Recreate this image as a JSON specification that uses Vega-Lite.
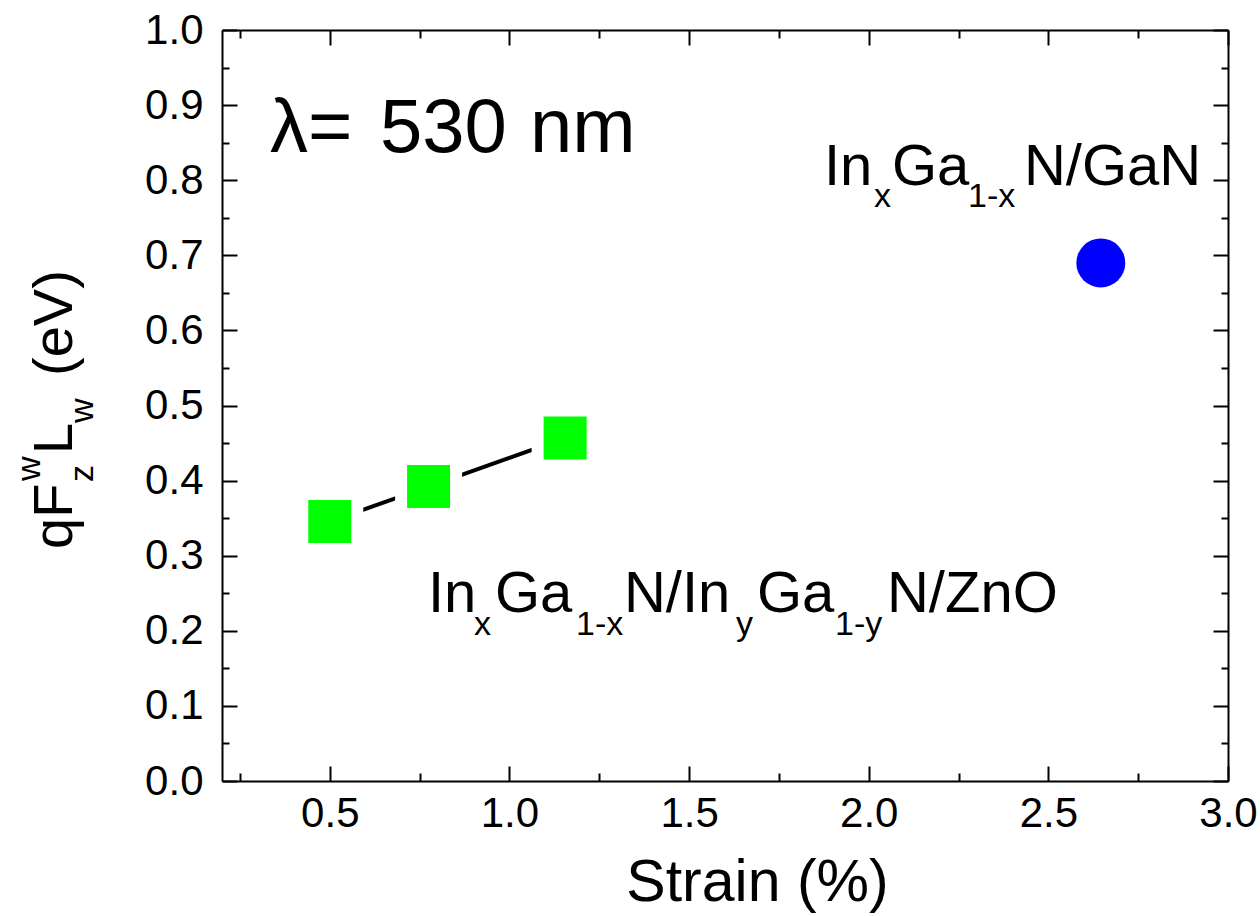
{
  "$schema": "https://vega.github.io/schema/vega-lite/v6.json",
  "width": 1006,
  "height": 751,
  "autosize": {"type": "none"},
  "padding": {"left": 222, "top": 30, "right": 32, "bottom": 135},
  "background": "white",
  "config": {
    "view": {"stroke": null},
    "font": "Liberation Sans",
    "axis": {
      "grid": false,
      "domainColor": "black",
      "domainWidth": 2,
      "tickColor": "black",
      "tickWidth": 2,
      "labelFont": "Liberation Sans",
      "labelFontSize": 42,
      "labelColor": "black",
      "labelOverlap": false,
      "labelFlush": false,
      "labelBound": false,
      "titleFont": "Liberation Sans",
      "titleColor": "black",
      "titleFontWeight": "normal"
    }
  },
  "datasets": {
    "measurements": [
      {"strain": 0.5, "energy": 0.3455, "structure": "InGaN/InGaN/ZnO"},
      {"strain": 0.775, "energy": 0.392, "structure": "InGaN/InGaN/ZnO"},
      {"strain": 1.155, "energy": 0.4566, "structure": "InGaN/InGaN/ZnO"},
      {"strain": 2.646, "energy": 0.6898, "structure": "InGaN/GaN"}
    ],
    "annotations": [
      {"text": "λ=", "strain": 0.3336, "energy": 0.8375, "kind": "lambda"},
      {"text": "530", "strain": 0.6397, "energy": 0.8375, "kind": "lambda"},
      {"text": "nm", "strain": 1.0572, "energy": 0.8375, "kind": "lambda"},
      {"text": "In", "strain": 1.8755, "energy": 0.7936, "kind": "main"},
      {"text": "x", "strain": 2.0146, "energy": 0.7643, "kind": "sub"},
      {"text": "Ga", "strain": 2.0647, "energy": 0.7936, "kind": "main"},
      {"text": "1-x", "strain": 2.2763, "energy": 0.7643, "kind": "sub"},
      {"text": "N/GaN", "strain": 2.4321, "energy": 0.7936, "kind": "main"},
      {"text": "In", "strain": 0.7733, "energy": 0.225, "kind": "main"},
      {"text": "x", "strain": 0.9014, "energy": 0.1944, "kind": "sub"},
      {"text": "Ga", "strain": 0.9598, "energy": 0.225, "kind": "main"},
      {"text": "1-x", "strain": 1.1852, "energy": 0.1944, "kind": "sub"},
      {"text": "N/In", "strain": 1.3188, "energy": 0.225, "kind": "main"},
      {"text": "y", "strain": 1.6306, "energy": 0.1944, "kind": "sub"},
      {"text": "Ga", "strain": 1.689, "energy": 0.225, "kind": "main"},
      {"text": "1-y", "strain": 1.9061, "energy": 0.1944, "kind": "sub"},
      {"text": "N/ZnO", "strain": 2.0508, "energy": 0.225, "kind": "main"},
      {"text": "qF", "strain": -0.2175, "energy": 0.3089, "kind": "ytitle-main"},
      {"text": "w", "strain": -0.3065, "energy": 0.3995, "kind": "ytitle-small"},
      {"text": "z", "strain": -0.159, "energy": 0.3981, "kind": "ytitle-small"},
      {"text": "L", "strain": -0.2175, "energy": 0.4354, "kind": "ytitle-main"},
      {"text": "w", "strain": -0.159, "energy": 0.4767, "kind": "ytitle-small"},
      {"text": "(eV)", "strain": -0.2175, "energy": 0.5393, "kind": "ytitle-main"}
    ]
  },
  "resolve": {
    "scale": {"x": "shared", "y": "shared"},
    "axis": {"x": "independent", "y": "independent"}
  },
  "layer": [
    {
      "data": {"name": "measurements"},
      "transform": [{"filter": "datum.structure === 'InGaN/InGaN/ZnO'"}],
      "mark": {"type": "line", "color": "black", "strokeWidth": 4},
      "encoding": {
        "x": {
          "field": "strain", "type": "quantitative",
          "scale": {"domain": [0.2, 3.0], "nice": false, "zero": false},
          "axis": {
            "orient": "bottom",
            "values": [0.25, 0.5, 0.75, 1, 1.25, 1.5, 1.75, 2, 2.25, 2.5, 2.75, 3],
            "tickSize": {"condition": {"test": "abs(datum.value*2-round(datum.value*2))<0.001", "value": -15}, "value": -8},
            "labelExpr": "abs(datum.value*2-round(datum.value*2))<0.001 ? format(datum.value, '.1f') : ''",
            "labelPadding": 27,
            "title": "Strain (%)",
            "titleFontSize": 59,
            "titleX": 535,
            "titleY": 119,
            "titleBaseline": "alphabetic",
            "titleAlign": "center",
            "titleAnchor": null
          }
        },
        "y": {
          "field": "energy", "type": "quantitative",
          "scale": {"domain": [0, 1], "nice": false, "zero": false},
          "axis": {
            "orient": "left",
            "values": [0, 0.05, 0.1, 0.15, 0.2, 0.25, 0.3, 0.35, 0.4, 0.45, 0.5, 0.55, 0.6, 0.65, 0.7, 0.75, 0.8, 0.85, 0.9, 0.95, 1],
            "tickSize": {"condition": {"test": "abs(datum.value*10-round(datum.value*10))<0.001", "value": -15}, "value": -7},
            "labelExpr": "abs(datum.value*10-round(datum.value*10))<0.001 ? format(datum.value, '.1f') : ''",
            "labelPadding": 34,
            "title": null
          }
        }
      }
    },
    {
      "data": {"name": "measurements"},
      "transform": [{"filter": "datum.structure === 'InGaN/InGaN/ZnO'"}],
      "mark": {"type": "point", "shape": "square", "filled": true, "color": "white", "opacity": 1, "size": 4489},
      "encoding": {
        "x": {
          "field": "strain", "type": "quantitative",
          "scale": {"domain": [0.2, 3.0], "nice": false, "zero": false},
          "axis": {
            "orient": "top",
            "values": [0.25, 0.5, 0.75, 1, 1.25, 1.5, 1.75, 2, 2.25, 2.5, 2.75, 3],
            "tickSize": {"condition": {"test": "abs(datum.value*2-round(datum.value*2))<0.001", "value": -15}, "value": -8},
            "labels": false,
            "title": null
          }
        },
        "y": {
          "field": "energy", "type": "quantitative",
          "scale": {"domain": [0, 1], "nice": false, "zero": false},
          "axis": {
            "orient": "right",
            "values": [0, 0.05, 0.1, 0.15, 0.2, 0.25, 0.3, 0.35, 0.4, 0.45, 0.5, 0.55, 0.6, 0.65, 0.7, 0.75, 0.8, 0.85, 0.9, 0.95, 1],
            "tickSize": {"condition": {"test": "abs(datum.value*10-round(datum.value*10))<0.001", "value": -15}, "value": -7},
            "labels": false,
            "title": null
          }
        }
      }
    },
    {
      "data": {"name": "measurements"},
      "transform": [{"filter": "datum.structure === 'InGaN/InGaN/ZnO'"}],
      "mark": {"type": "point", "shape": "square", "filled": true, "color": "#00ff00", "opacity": 1, "size": 1849},
      "encoding": {
        "x": {"field": "strain", "type": "quantitative", "scale": {"domain": [0.2, 3.0], "nice": false, "zero": false}, "axis": null},
        "y": {"field": "energy", "type": "quantitative", "scale": {"domain": [0, 1], "nice": false, "zero": false}, "axis": null}
      }
    },
    {
      "data": {"name": "measurements"},
      "transform": [{"filter": "datum.structure === 'InGaN/GaN'"}],
      "mark": {"type": "point", "shape": "circle", "filled": true, "color": "#0000ff", "opacity": 1, "size": 2401},
      "encoding": {
        "x": {"field": "strain", "type": "quantitative", "scale": {"domain": [0.2, 3.0], "nice": false, "zero": false}, "axis": null},
        "y": {"field": "energy", "type": "quantitative", "scale": {"domain": [0, 1], "nice": false, "zero": false}, "axis": null}
      }
    },
    {
      "data": {"name": "annotations"},
      "transform": [{"filter": "datum.kind === 'lambda'"}],
      "mark": {"type": "text", "align": "left", "baseline": "alphabetic", "fontSize": 76, "font": "Liberation Sans", "color": "black"},
      "encoding": {
        "x": {"field": "strain", "type": "quantitative", "scale": {"domain": [0.2, 3.0], "nice": false, "zero": false}, "axis": null},
        "y": {"field": "energy", "type": "quantitative", "scale": {"domain": [0, 1], "nice": false, "zero": false}, "axis": null},
        "text": {"field": "text"}
      }
    },
    {
      "data": {"name": "annotations"},
      "transform": [{"filter": "datum.kind === 'main'"}],
      "mark": {"type": "text", "align": "left", "baseline": "alphabetic", "fontSize": 58, "font": "Liberation Sans", "color": "black"},
      "encoding": {
        "x": {"field": "strain", "type": "quantitative", "scale": {"domain": [0.2, 3.0], "nice": false, "zero": false}, "axis": null},
        "y": {"field": "energy", "type": "quantitative", "scale": {"domain": [0, 1], "nice": false, "zero": false}, "axis": null},
        "text": {"field": "text"}
      }
    },
    {
      "data": {"name": "annotations"},
      "transform": [{"filter": "datum.kind === 'sub'"}],
      "mark": {"type": "text", "align": "left", "baseline": "alphabetic", "fontSize": 34, "font": "Liberation Sans", "color": "black"},
      "encoding": {
        "x": {"field": "strain", "type": "quantitative", "scale": {"domain": [0.2, 3.0], "nice": false, "zero": false}, "axis": null},
        "y": {"field": "energy", "type": "quantitative", "scale": {"domain": [0, 1], "nice": false, "zero": false}, "axis": null},
        "text": {"field": "text"}
      }
    },
    {
      "data": {"name": "annotations"},
      "transform": [{"filter": "datum.kind === 'ytitle-main'"}],
      "mark": {"type": "text", "align": "left", "baseline": "alphabetic", "angle": 270, "fontSize": 56, "font": "Liberation Sans", "color": "black"},
      "encoding": {
        "x": {"field": "strain", "type": "quantitative", "scale": {"domain": [0.2, 3.0], "nice": false, "zero": false}, "axis": null},
        "y": {"field": "energy", "type": "quantitative", "scale": {"domain": [0, 1], "nice": false, "zero": false}, "axis": null},
        "text": {"field": "text"}
      }
    },
    {
      "data": {"name": "annotations"},
      "transform": [{"filter": "datum.kind === 'ytitle-small'"}],
      "mark": {"type": "text", "align": "left", "baseline": "alphabetic", "angle": 270, "fontSize": 34, "font": "Liberation Sans", "color": "black"},
      "encoding": {
        "x": {"field": "strain", "type": "quantitative", "scale": {"domain": [0.2, 3.0], "nice": false, "zero": false}, "axis": null},
        "y": {"field": "energy", "type": "quantitative", "scale": {"domain": [0, 1], "nice": false, "zero": false}, "axis": null},
        "text": {"field": "text"}
      }
    }
  ]
}
